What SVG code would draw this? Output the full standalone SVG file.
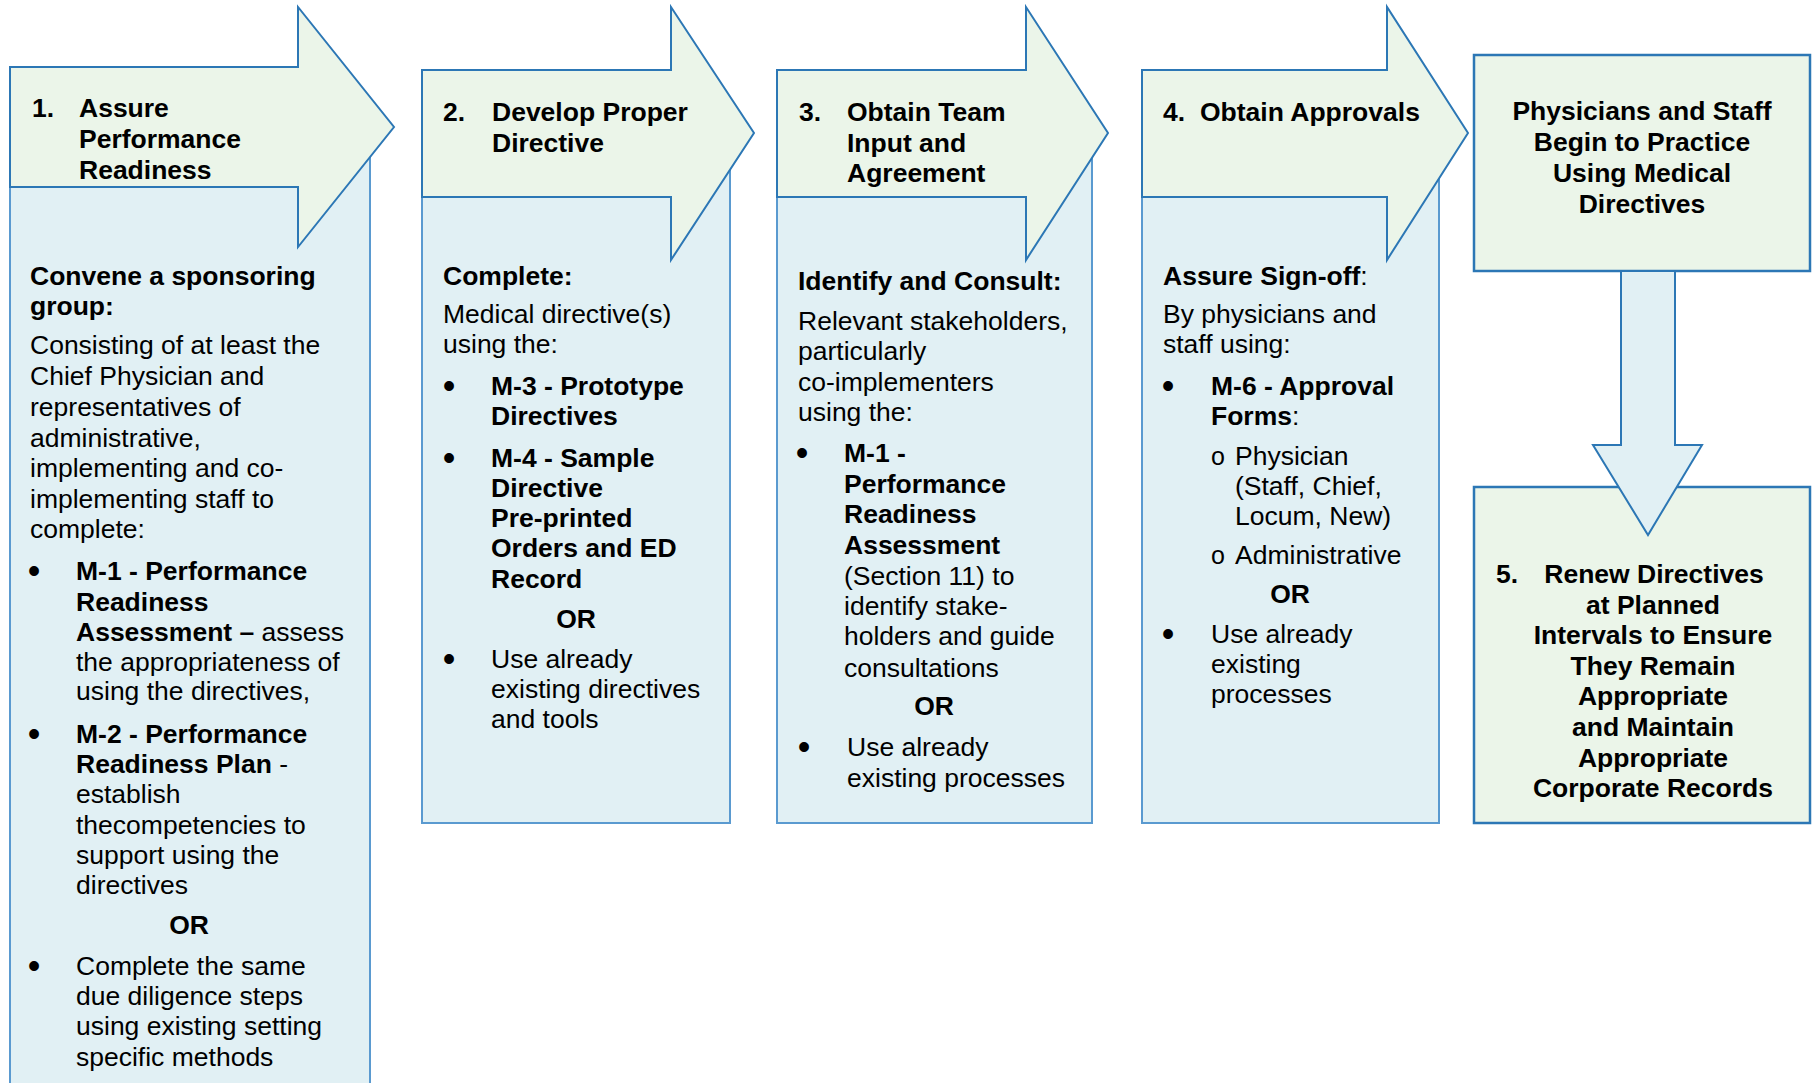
<svg xmlns="http://www.w3.org/2000/svg" width="1820" height="1083" viewBox="0 0 1820 1083">
<style>
.body{fill:#E1F0F4;stroke:#5A9AD0;stroke-width:2}
.arr{fill:#EBF5E9;stroke:#2C77B5;stroke-width:2;stroke-linejoin:miter}
.box{fill:#EBF5E9;stroke:#2C77B5;stroke-width:2.5}
.down{fill:#E1F0F4;stroke:#2C77B5;stroke-width:2}
text{font-family:"Liberation Sans",Arial,sans-serif;font-size:26.5px;fill:#000}
.b{font-weight:bold}
.c{text-anchor:middle}
.bl{font-size:36px;text-anchor:middle}
.o{font-size:25px}
</style>
<rect width="1820" height="1083" fill="#fff"/>

<g id="step1">
<rect class="body" x="10" y="127" width="360" height="970"/>
<polygon class="arr" points="10,67 298,67 298,7 394,127 298,247 298,187 10,187"/>
<text class="b"><tspan x="32" y="117">1.</tspan><tspan x="79" y="117">Assure</tspan><tspan x="79" y="148">Performance</tspan><tspan x="79" y="179">Readiness</tspan></text>
<text class="b"><tspan x="30" y="285">Convene a sponsoring</tspan><tspan x="30" y="315">group:</tspan></text>
<text><tspan x="30" y="354">Consisting of at least the</tspan><tspan x="30" y="385">Chief Physician and</tspan><tspan x="30" y="416">representatives of</tspan><tspan x="30" y="447">administrative,</tspan><tspan x="30" y="477">implementing and co-</tspan><tspan x="30" y="508">implementing staff to</tspan><tspan x="30" y="538">complete:</tspan></text>
<text class="bl"><tspan x="34" y="583">•</tspan><tspan x="34" y="746">•</tspan><tspan x="34" y="978">•</tspan></text>
<text><tspan class="b" x="76" y="580">M-1 - Performance</tspan><tspan class="b" x="76" y="611">Readiness</tspan><tspan class="b" x="76" y="641">Assessment –</tspan><tspan> assess</tspan><tspan x="76" y="671">the appropriateness of</tspan><tspan x="76" y="700">using the directives,</tspan></text>
<text><tspan class="b" x="76" y="743">M-2 - Performance</tspan><tspan class="b" x="76" y="773">Readiness Plan</tspan><tspan> -</tspan><tspan x="76" y="803">establish</tspan><tspan x="76" y="834">thecompetencies to</tspan><tspan x="76" y="864">support using the</tspan><tspan x="76" y="894">directives</tspan></text>
<text class="b c" x="189" y="934">OR</text>
<text><tspan x="76" y="975">Complete the same</tspan><tspan x="76" y="1005">due diligence steps</tspan><tspan x="76" y="1035">using existing setting</tspan><tspan x="76" y="1066">specific methods</tspan></text>
</g>

<g id="step2">
<rect class="body" x="422" y="133" width="308" height="690"/>
<polygon class="arr" points="422,70 671,70 671,7 754,133 671,260 671,197 422,197"/>
<text class="b"><tspan x="443" y="121">2.</tspan><tspan x="492" y="121">Develop Proper</tspan><tspan x="492" y="152">Directive</tspan></text>
<text class="b" x="443" y="285">Complete:</text>
<text><tspan x="443" y="323">Medical directive(s)</tspan><tspan x="443" y="353">using the:</tspan></text>
<text class="bl"><tspan x="449" y="398">•</tspan><tspan x="449" y="470">•</tspan><tspan x="449" y="671">•</tspan></text>
<text class="b"><tspan x="491" y="395">M-3 - Prototype</tspan><tspan x="491" y="425">Directives</tspan><tspan x="491" y="467">M-4 - Sample</tspan><tspan x="491" y="497">Directive</tspan><tspan x="491" y="527">Pre-printed</tspan><tspan x="491" y="557">Orders and ED</tspan><tspan x="491" y="588">Record</tspan></text>
<text class="b c" x="576" y="628">OR</text>
<text><tspan x="491" y="668">Use already</tspan><tspan x="491" y="698">existing directives</tspan><tspan x="491" y="728">and tools</tspan></text>
</g>

<g id="step3">
<rect class="body" x="777" y="133" width="315" height="690"/>
<polygon class="arr" points="777,70 1026,70 1026,7 1108,133 1026,260 1026,197 777,197"/>
<text class="b"><tspan x="799" y="121">3.</tspan><tspan x="847" y="121">Obtain Team</tspan><tspan x="847" y="152">Input and</tspan><tspan x="847" y="182">Agreement</tspan></text>
<text class="b" x="798" y="290">Identify and Consult:</text>
<text><tspan x="798" y="330">Relevant stakeholders,</tspan><tspan x="798" y="360">particularly</tspan><tspan x="798" y="391">co-implementers</tspan><tspan x="798" y="421">using the:</tspan></text>
<text class="bl"><tspan x="802" y="465">•</tspan><tspan x="804" y="759">•</tspan></text>
<text><tspan class="b" x="844" y="462">M-1 -</tspan><tspan class="b" x="844" y="493">Performance</tspan><tspan class="b" x="844" y="523">Readiness</tspan><tspan class="b" x="844" y="554">Assessment</tspan><tspan x="844" y="585">(Section 11) to</tspan><tspan x="844" y="615">identify stake-</tspan><tspan x="844" y="645">holders and guide</tspan><tspan x="844" y="677">consultations</tspan></text>
<text class="b c" x="934" y="715">OR</text>
<text><tspan x="847" y="756">Use already</tspan><tspan x="847" y="787">existing processes</tspan></text>
</g>

<g id="step4">
<rect class="body" x="1142" y="133" width="297" height="690"/>
<polygon class="arr" points="1142,70 1387,70 1387,7 1468,133 1387,260 1387,197 1142,197"/>
<text class="b"><tspan x="1163" y="121">4.</tspan><tspan x="1200" y="121">Obtain Approvals</tspan></text>
<text x="1163" y="285"><tspan class="b">Assure Sign-off</tspan>:</text>
<text><tspan x="1163" y="323">By physicians and</tspan><tspan x="1163" y="353">staff using:</tspan></text>
<text class="bl"><tspan x="1168" y="398">•</tspan><tspan x="1168" y="646">•</tspan></text>
<text><tspan class="b" x="1211" y="395">M-6 - Approval</tspan><tspan class="b" x="1211" y="425">Forms</tspan><tspan>:</tspan></text>
<text class="o"><tspan x="1211" y="465">o</tspan><tspan x="1211" y="564">o</tspan></text>
<text><tspan x="1235" y="465">Physician</tspan><tspan x="1235" y="495">(Staff, Chief,</tspan><tspan x="1235" y="525">Locum, New)</tspan><tspan x="1235" y="564">Administrative</tspan></text>
<text class="b c" x="1290" y="603">OR</text>
<text><tspan x="1211" y="643">Use already</tspan><tspan x="1211" y="673">existing</tspan><tspan x="1211" y="703">processes</tspan></text>
</g>

<g id="practice">
<rect class="box" x="1474" y="55" width="336" height="216"/>
<text class="b c"><tspan x="1642" y="120">Physicians and Staff</tspan><tspan x="1642" y="151">Begin to Practice</tspan><tspan x="1642" y="182">Using Medical</tspan><tspan x="1642" y="213">Directives</tspan></text>
</g>

<g id="step5">
<rect class="box" x="1474" y="487" width="336" height="336"/>
<text class="b"><tspan x="1496" y="583">5.</tspan></text>
<text class="b c"><tspan x="1654" y="583">Renew Directives</tspan><tspan x="1653" y="614">at Planned</tspan><tspan x="1653" y="644">Intervals to Ensure</tspan><tspan x="1653" y="675">They Remain</tspan><tspan x="1653" y="705">Appropriate</tspan><tspan x="1653" y="736">and Maintain</tspan><tspan x="1653" y="767">Appropriate</tspan><tspan x="1653" y="797">Corporate Records</tspan></text>
</g>

<g id="connectors">
<polygon class="down" points="1621,271 1675,271 1675,445 1702,445 1648,535 1593,445 1621,445"/>
</g>
</svg>
